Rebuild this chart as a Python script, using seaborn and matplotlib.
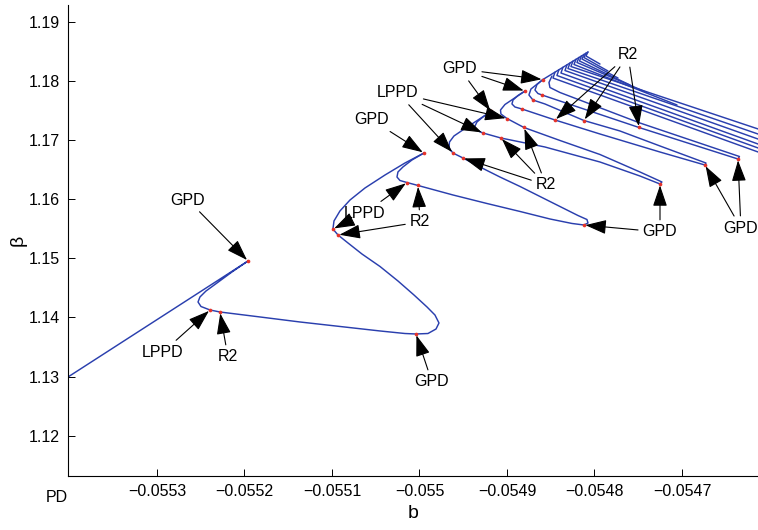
import numpy as np
import pandas as pd
import matplotlib
matplotlib.use("Agg")
import matplotlib.pyplot as plt
import seaborn as sns

# ---- continuation curve of the period-doubling cascade, (b, beta) ----
stage1_b = [-0.0554017, -0.0551960, -0.0552143, -0.0552314, -0.0552440, -0.0552509,
            -0.0552531, -0.0552497, -0.0552394, -0.0552280, -0.0551823, -0.0551366,
            -0.0550909, -0.0550451, -0.0550166, -0.0550040, -0.0549903, -0.0549811,
            -0.0549777, -0.0549823, -0.0549914, -0.0550063, -0.0550246, -0.0550451,
            -0.0550657, -0.0550817, -0.0550931, -0.0550989, -0.0550977, -0.0550909,
            -0.0550794, -0.0550623, -0.0550394, -0.0550166, -0.0549949]
stage1_beta = [1.12993, 1.14956, 1.14770, 1.14584, 1.14448, 1.14347, 1.14262, 1.14186,
               1.14127, 1.14093, 1.14009, 1.13924, 1.13848, 1.13772, 1.13729, 1.13721,
               1.13729, 1.13805, 1.13907, 1.14042, 1.14178, 1.14381, 1.14618, 1.14863,
               1.15074, 1.15261, 1.15396, 1.15497, 1.15633, 1.15802, 1.15988, 1.16191,
               1.16411, 1.16614, 1.16783]

stage2_b = [-0.0549949, -0.0550086, -0.0550189, -0.0550246, -0.0550257, -0.0550223,
            -0.0550143, -0.0550017, -0.0549617, -0.0549229, -0.0548851, -0.0548509,
            -0.0548257, -0.0548120, -0.0548074, -0.0548086, -0.0548189, -0.0548509,
            -0.0548851, -0.0549080, -0.0549251, -0.0549503, -0.0549617, -0.0549663,
            -0.0549657, -0.0549606, -0.0549514, -0.0549183]
stage2_beta = [1.16783, 1.16665, 1.16547, 1.16462, 1.16377, 1.16318, 1.16284, 1.16234,
               1.16073, 1.15929, 1.15794, 1.15667, 1.15591, 1.15565, 1.15599, 1.15658,
               1.15726, 1.15963, 1.16217, 1.16377, 1.16504, 1.16699, 1.16783, 1.16868,
               1.16970, 1.17071, 1.17164, 1.17486]

stage3_b = [-0.0549183, -0.0549274, -0.0549343, -0.0549371, -0.0549343, -0.0549274,
            -0.0549069, -0.0548566, -0.0547937, -0.0547480, -0.0547251, -0.0547229,
            -0.0547480, -0.0547937, -0.0548394, -0.0548806, -0.0549000, -0.0549069,
            -0.0549074, -0.0549023, -0.0548794]
stage3_beta = [1.17486, 1.17393, 1.17308, 1.17223, 1.17164, 1.17122, 1.17037, 1.16885,
               1.16631, 1.16394, 1.16259, 1.16293, 1.16462, 1.16758, 1.16995, 1.17215,
               1.17367, 1.17443, 1.17511, 1.17604, 1.17832]

stage4_b = [-0.0548794, -0.0548874, -0.0548931, -0.0548943, -0.0548909, -0.0548829,
            -0.0548451, -0.0547937, -0.0547251, -0.0546737, -0.0546726, -0.0547251,
            -0.0547709, -0.0548120, -0.0548566, -0.0548703, -0.0548749, -0.0548726,
            -0.0548589]
stage4_beta = [1.17832, 1.17756, 1.17680, 1.17613, 1.17562, 1.17528, 1.17342, 1.17105,
               1.16800, 1.16580, 1.16614, 1.16902, 1.17156, 1.17333, 1.17613, 1.17680,
               1.17765, 1.17866, 1.18027]

stage5_b = [-0.0548589, -0.0548657, -0.0548680, -0.0548646, -0.0548600, -0.0547491,
            -0.0546360, -0.0546343, -0.0547480, -0.0548394, -0.0548509, -0.0548520,
            -0.0548486]
stage5_beta = [1.18027, 1.17942, 1.17849, 1.17790, 1.17765, 1.17215, 1.16682, 1.16724,
               1.17291, 1.17807, 1.17892, 1.17976, 1.18086]

# accumulation ridge on which the successive tips sit
ridge_b = [-0.0548589, -0.0548074]
ridge_beta = [1.18027, 1.18492]

# higher-period branches: start on the ridge, fold at the corner, run to the end
comb_start_b = [-0.0548451, -0.0548406, -0.0548360, -0.0548314, -0.0548280, -0.0548246,
                -0.0548211, -0.0548177, -0.0548149, -0.0548120, -0.0548097, -0.0548074]
comb_start_beta = [1.18151, 1.18193, 1.18234, 1.18276, 1.18306, 1.18338,
                   1.18369, 1.18401, 1.18426, 1.18452, 1.18474, 1.18494]
comb_corner_b = [-0.0548474, -0.0548429, -0.0548383, -0.0548337, -0.0548303, -0.0548269,
                 -0.0548234, -0.0548200, -0.0548171, -0.0548143, -0.0548120, -0.0548097]
comb_corner_beta = [1.18052, 1.18095, 1.18137, 1.18179, 1.18213, 1.18247,
                    1.18281, 1.18315, 1.18340, 1.18374, 1.18399, 1.18425]
comb_end_b = [-0.0546051, -0.0546051, -0.0546051, -0.0546051, -0.0546051, -0.0546051,
              -0.0547057, -0.0547400, -0.0547594, -0.0547731, -0.0547846, -0.0547937]
comb_end_beta = [1.16758, 1.16826, 1.16893, 1.16978, 1.17064, 1.17151,
                 1.17596, 1.17807, 1.17934, 1.18052, 1.18171, 1.18289]

# detected bifurcation points
gpd_b = [-0.0551960, -0.0550040, -0.0549949, -0.0548120, -0.0549183,
         -0.0547251, -0.0548794, -0.0546737, -0.0548589, -0.0546360]
gpd_beta = [1.14956, 1.13721, 1.16783, 1.15565, 1.17486,
            1.16259, 1.17832, 1.16580, 1.18027, 1.16682]
lppd_b = [-0.0552394, -0.0550989, -0.0550143, -0.0549617, -0.0549274,
          -0.0549000, -0.0548829, -0.0548703, -0.0548600]
lppd_beta = [1.14127, 1.15497, 1.16284, 1.16783, 1.17122,
             1.17367, 1.17528, 1.17680, 1.17765]
r2_b = [-0.0552280, -0.0550931, -0.0550017, -0.0549503, -0.0549069,
        -0.0548806, -0.0548451, -0.0548120, -0.0547491]
r2_beta = [1.14093, 1.15396, 1.16234, 1.16699, 1.17037,
           1.17215, 1.17342, 1.17333, 1.17215]

x_ticks = [-0.0553, -0.0552, -0.0551, -0.0550, -0.0549, -0.0548, -0.0547]
x_tick_labels = ["\u22120.0553", "\u22120.0552", "\u22120.0551", "\u22120.055",
                 "\u22120.0549", "\u22120.0548", "\u22120.0547"]
y_ticks = [1.12, 1.13, 1.14, 1.15, 1.16, 1.17, 1.18, 1.19]
y_tick_labels = ["1.12", "1.13", "1.14", "1.15", "1.16", "1.17", "1.18", "1.19"]

# ---- assemble long-form table ----
branches = [
    ("stage1", stage1_b, stage1_beta),
    ("stage2", stage2_b, stage2_beta),
    ("stage3", stage3_b, stage3_beta),
    ("stage4", stage4_b, stage4_beta),
    ("stage5", stage5_b, stage5_beta),
    ("ridge", ridge_b, ridge_beta),
]
for i in range(len(comb_start_b)):
    branches.append((f"comb{i}",
                     [comb_start_b[i], comb_corner_b[i], comb_end_b[i]],
                     [comb_start_beta[i], comb_corner_beta[i], comb_end_beta[i]]))

frames = []
for name, bs, betas in branches:
    frames.append(pd.DataFrame({"b": bs, "beta": betas, "branch": name}))
curve = pd.concat(frames, ignore_index=True)

points = pd.DataFrame({
    "b": gpd_b + lppd_b + r2_b,
    "beta": gpd_beta + lppd_beta + r2_beta,
})
marks = {"GPD": (gpd_b, gpd_beta), "LPPD": (lppd_b, lppd_beta), "R2": (r2_b, r2_beta)}

# label text position (b, beta) and the bifurcation points each label refers to
annotations = [
    ("GPD", (-0.0552646, 1.15988), [0]),
    ("LPPD", (-0.0552931, 1.13416), [0]),
    ("R2", (-0.0552189, 1.13332), [0]),
    ("GPD", (-0.0549857, 1.12909), [1]),
    ("GPD", (-0.0550543, 1.17342), [2]),
    ("LPPD", (-0.0550623, 1.15768), [2, 1]),
    ("R2", (-0.0549994, 1.15616), [2, 1]),
    ("GPD", (-0.0547251, 1.15447), [3, 5]),
    ("R2", (-0.0548554, 1.16242), [3, 4, 5]),
    ("LPPD", (-0.0550246, 1.17799), [3, 4, 5]),
    ("GPD", (-0.0549537, 1.18205), [4, 6, 8]),
    ("R2", (-0.0547617, 1.18442), [6, 7, 8]),
    ("GPD", (-0.0546326, 1.15514), [9, 7]),
]

# ---- style ----
sns.set_theme(style="white")
plt.rcParams["font.family"] = ["Liberation Sans", "DejaVu Sans"]
plt.rcParams["axes.unicode_minus"] = True
plt.rcParams["text.color"] = "black"
plt.rcParams["axes.labelcolor"] = "black"

fig = plt.figure(figsize=(7.58, 5.30), dpi=100)
ax = fig.add_axes([0.0897, 0.1019, 0.9103, 0.8887])

line_color = "#2a3fae"
sns.lineplot(data=curve, x="b", y="beta", units="branch", estimator=None, sort=False,
             color=line_color, linewidth=1.05, ax=ax, legend=False)
sns.scatterplot(data=points, x="b", y="beta", color="#e5332a", s=7, linewidth=0,
                ax=ax, zorder=4, legend=False)

arrow_kw = dict(arrowstyle="-|>,head_length=1.0,head_width=0.34", color="black",
                lw=0.8, shrinkA=1, shrinkB=1, mutation_scale=13)
for text, pos, idx in annotations:
    xs, ys = marks[text]
    for k, j in enumerate(idx):
        ax.annotate(text, xy=(xs[j], ys[j]), xytext=pos, textcoords="data",
                    ha="center", va="center", fontsize=11.5,
                    color="black" if k == 0 else "none",
                    arrowprops=arrow_kw, annotation_clip=False, zorder=5)

ax.set_xlim(-0.0554017, -0.0546131)
ax.set_ylim(1.11318, 1.19288)
ax.set_xticks(x_ticks)
ax.set_xticklabels(x_tick_labels)
ax.set_yticks(y_ticks)
ax.set_yticklabels(y_tick_labels)
ax.tick_params(axis="both", which="major", direction="in", length=5, width=0.7,
               colors="black", labelsize=11.5, pad=6,
               bottom=True, left=True, top=False, right=False)
for side in ("top", "right"):
    ax.spines[side].set_visible(False)
for side in ("left", "bottom"):
    ax.spines[side].set_color("black")
    ax.spines[side].set_linewidth(0.8)
ax.set_xlabel("b", fontsize=14, labelpad=4, color="black")
ax.set_ylabel("\u03b2", fontsize=14, labelpad=1, color="black")
fig.text(57 / 758, 1 - 497 / 530, "PD", ha="center", va="center", fontsize=11.5,
         color="black")

fig.savefig("out.png", dpi=100)
